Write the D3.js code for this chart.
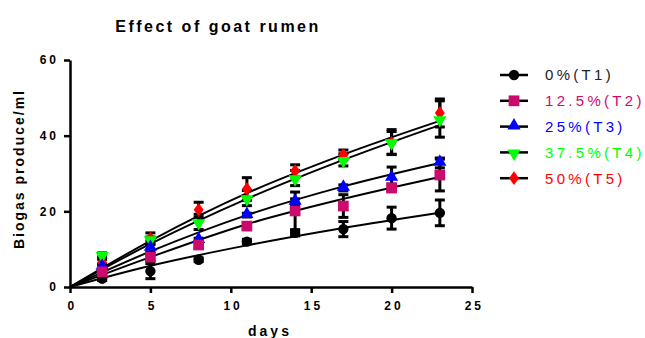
<!DOCTYPE html>
<html>
<head>
<meta charset="utf-8">
<script src="https://cdn.jsdelivr.net/npm/d3@7"></script>
<style>
  body { margin: 0; background: #fff; }
  text { font-family: Arial, "Liberation Sans", sans-serif; }
</style>
</head>
<body>
<script>
// data
var days = [2, 5, 8, 11, 14, 17, 20, 23];
var seriesNames = ["0%(T1)", "12.5%(T2)", "25%(T3)", "37.5%(T4)", "50%(T5)"];
var seriesColors = ["#000000", "#cc0a6e", "#0000ff", "#00ff00", "#ff0000"];
var seriesShapes = ["circle", "square", "triangle", "down", "diamond"];

var t1 = [2.2, 4.2, 7.2, 12.0, 14.3, 15.3, 18.2, 19.6];
var t2 = [4.0, 7.9, 11.1, 16.1, 20.1, 21.4, 26.2, 29.6];
var t3 = [5.3, 10.3, 12.4, 19.0, 22.5, 26.2, 28.8, 32.8];
var t4 = [8.5, 12.7, 17.2, 23.5, 28.8, 33.6, 38.3, 44.4];
var t5 = [6.5, 12.8, 20.4, 25.9, 30.7, 34.9, 38.1, 46.0];

var t1Err = [0.5, 2.0, 0.5, 0.6, 0.8, 2.0, 2.9, 3.4];
var t2Err = [0.8, 1.0, 0.8, 0.8, 5.0, 3.0, 1.0, 4.2];
var t3Err = [0.8, 1.0, 0.5, 0.5, 0.8, 0.8, 2.9, 1.3];
var t4Err = [0.5, 0.5, 2.0, 2.0, 2.0, 1.6, 3.3, 4.8];
var t5Err = [0.8, 1.5, 2.0, 3.0, 1.6, 1.3, 3.0, 3.7];

// fitted curves, read at a few days
var fitDays = [0, 5, 11, 17, 23];
var t1Fit = [0, 5.6, 11.0, 15.6, 19.6];
var t2Fit = [0, 7.9, 16.6, 23.3, 29.1];
var t3Fit = [0, 9.4, 19.0, 26.6, 32.8];
var t4Fit = [0, 11.4, 23.3, 33.6, 42.8];
var t5Fit = [0, 12.2, 24.8, 35.0, 43.9];

var xTicks = [0, 5, 10, 15, 20, 25];
var yTicks = [0, 20, 40, 60];

var values = [t1, t2, t3, t4, t5];
var errs = [t1Err, t2Err, t3Err, t4Err, t5Err];
var fits = [t1Fit, t2Fit, t3Fit, t4Fit, t5Fit];

var width = 645, height = 338;
var margin = {top: 60, right: 173, bottom: 51, left: 70};

var svg = d3.select("body").append("svg")
    .attr("width", width)
    .attr("height", height);

var x = d3.scaleLinear().domain([0, 25]).range([margin.left, width - margin.right]);
var y = d3.scaleLinear().domain([0, 60]).range([height - margin.bottom, margin.top]);

// title
svg.append("text")
    .attr("x", 218).attr("y", 32)
    .attr("text-anchor", "middle")
    .style("font-size", "16px").style("font-weight", "bold")
    .style("letter-spacing", "2.5px")
    .text("Effect of goat rumen");

// axes
var xAxis = svg.append("g")
    .attr("transform", "translate(0," + y(0) + ")")
    .call(d3.axisBottom(x).tickValues(xTicks).tickSize(6).tickSizeOuter(0).tickPadding(8));
var yAxis = svg.append("g")
    .attr("transform", "translate(" + x(0) + ",0)")
    .call(d3.axisLeft(y).tickValues(yTicks).tickSize(6).tickSizeOuter(0).tickPadding(5));

[xAxis, yAxis].forEach(function(g) {
  g.select(".domain").attr("stroke", "#000").attr("stroke-width", 2.5);
  g.selectAll(".tick line").attr("stroke", "#000").attr("stroke-width", 2.5);
  g.selectAll(".tick text")
      .attr("fill", "#000")
      .style("font-size", "12px").style("font-weight", "bold")
      .style("font-family", "Arial, 'Liberation Sans', sans-serif")
      .style("letter-spacing", "3px");
});
xAxis.selectAll(".tick text").attr("dx", "0.15em");

// axis titles
svg.append("text")
    .attr("x", 270).attr("y", 336)
    .attr("text-anchor", "middle")
    .style("font-size", "14px").style("font-weight", "bold")
    .style("letter-spacing", "3px")
    .text("days");

svg.append("text")
    .attr("transform", "translate(24,169) rotate(-90)")
    .attr("text-anchor", "middle")
    .style("font-size", "14px").style("font-weight", "bold")
    .style("letter-spacing", "2px")
    .text("Biogas produce/ml");

// symbol helper
function symbolFor(shape) {
  if (shape === "circle") return d3.symbol().type(d3.symbolCircle).size(85);
  if (shape === "square") return d3.symbol().type(d3.symbolSquare).size(115);
  if (shape === "triangle") return d3.symbol().type(d3.symbolTriangle).size(75);
  if (shape === "down") return d3.symbol().type(d3.symbolTriangle).size(75);
  return d3.symbol().type(d3.symbolDiamond).size(55);
}
function symbolTransform(shape, px, py) {
  if (shape === "down") return "translate(" + px + "," + (py + 1) + ") rotate(180)";
  if (shape === "triangle") return "translate(" + px + "," + (py - 1) + ")";
  if (shape === "diamond") return "translate(" + px + "," + py + ") scale(1.25,1)";
  return "translate(" + px + "," + py + ")";
}

// fit lines
var line = d3.line()
    .x(function(d) { return x(d[0]); })
    .y(function(d) { return y(d[1]); })
    .curve(d3.curveMonotoneX);

fits.forEach(function(f) {
  svg.append("path")
      .datum(fitDays.map(function(d, i) { return [d, f[i]]; }))
      .attr("fill", "none")
      .attr("stroke", "#000")
      .attr("stroke-width", 2)
      .attr("d", line);
});

// error bars
errs.forEach(function(e, s) {
  var g = svg.append("g");
  days.forEach(function(d, i) {
    var v = values[s][i], px = x(d);
    var top = y(v + e[i]), bot = y(v - e[i]);
    g.append("line").attr("x1", px).attr("x2", px).attr("y1", top).attr("y2", bot)
        .attr("stroke", "#000").attr("stroke-width", 3);
    [top, bot].forEach(function(yy) {
      g.append("line").attr("x1", px - 5).attr("x2", px + 5).attr("y1", yy).attr("y2", yy)
          .attr("stroke", "#000").attr("stroke-width", 3);
    });
  });
});

// markers
var drawOrder = [0, 4, 3, 2, 1];
drawOrder.forEach(function(s) {
  svg.append("g").selectAll("path")
      .data(days.map(function(d, i) { return [d, values[s][i]]; }))
      .enter().append("path")
      .attr("d", symbolFor(seriesShapes[s])())
      .attr("transform", function(d) { return symbolTransform(seriesShapes[s], x(d[0]), y(d[1])); })
      .attr("fill", seriesColors[s]);
});

// legend
var legend = svg.append("g");
seriesNames.forEach(function(name, i) {
  var ly = 75 + i * 25.8;
  legend.append("line")
      .attr("x1", 500).attr("x2", 528).attr("y1", ly).attr("y2", ly)
      .attr("stroke", "#000").attr("stroke-width", 2.5);
  legend.append("path")
      .attr("d", symbolFor(seriesShapes[i])())
      .attr("transform", symbolTransform(seriesShapes[i], 514, ly))
      .attr("fill", seriesColors[i]);
  legend.append("text")
      .attr("x", 545).attr("y", ly).attr("dy", "0.36em")
      .attr("fill", i === 0 ? "#222" : seriesColors[i])
      .style("font-size", "15px")
      .style("letter-spacing", "3.3px")
      .text(name);
});
</script>
</body>
</html>
